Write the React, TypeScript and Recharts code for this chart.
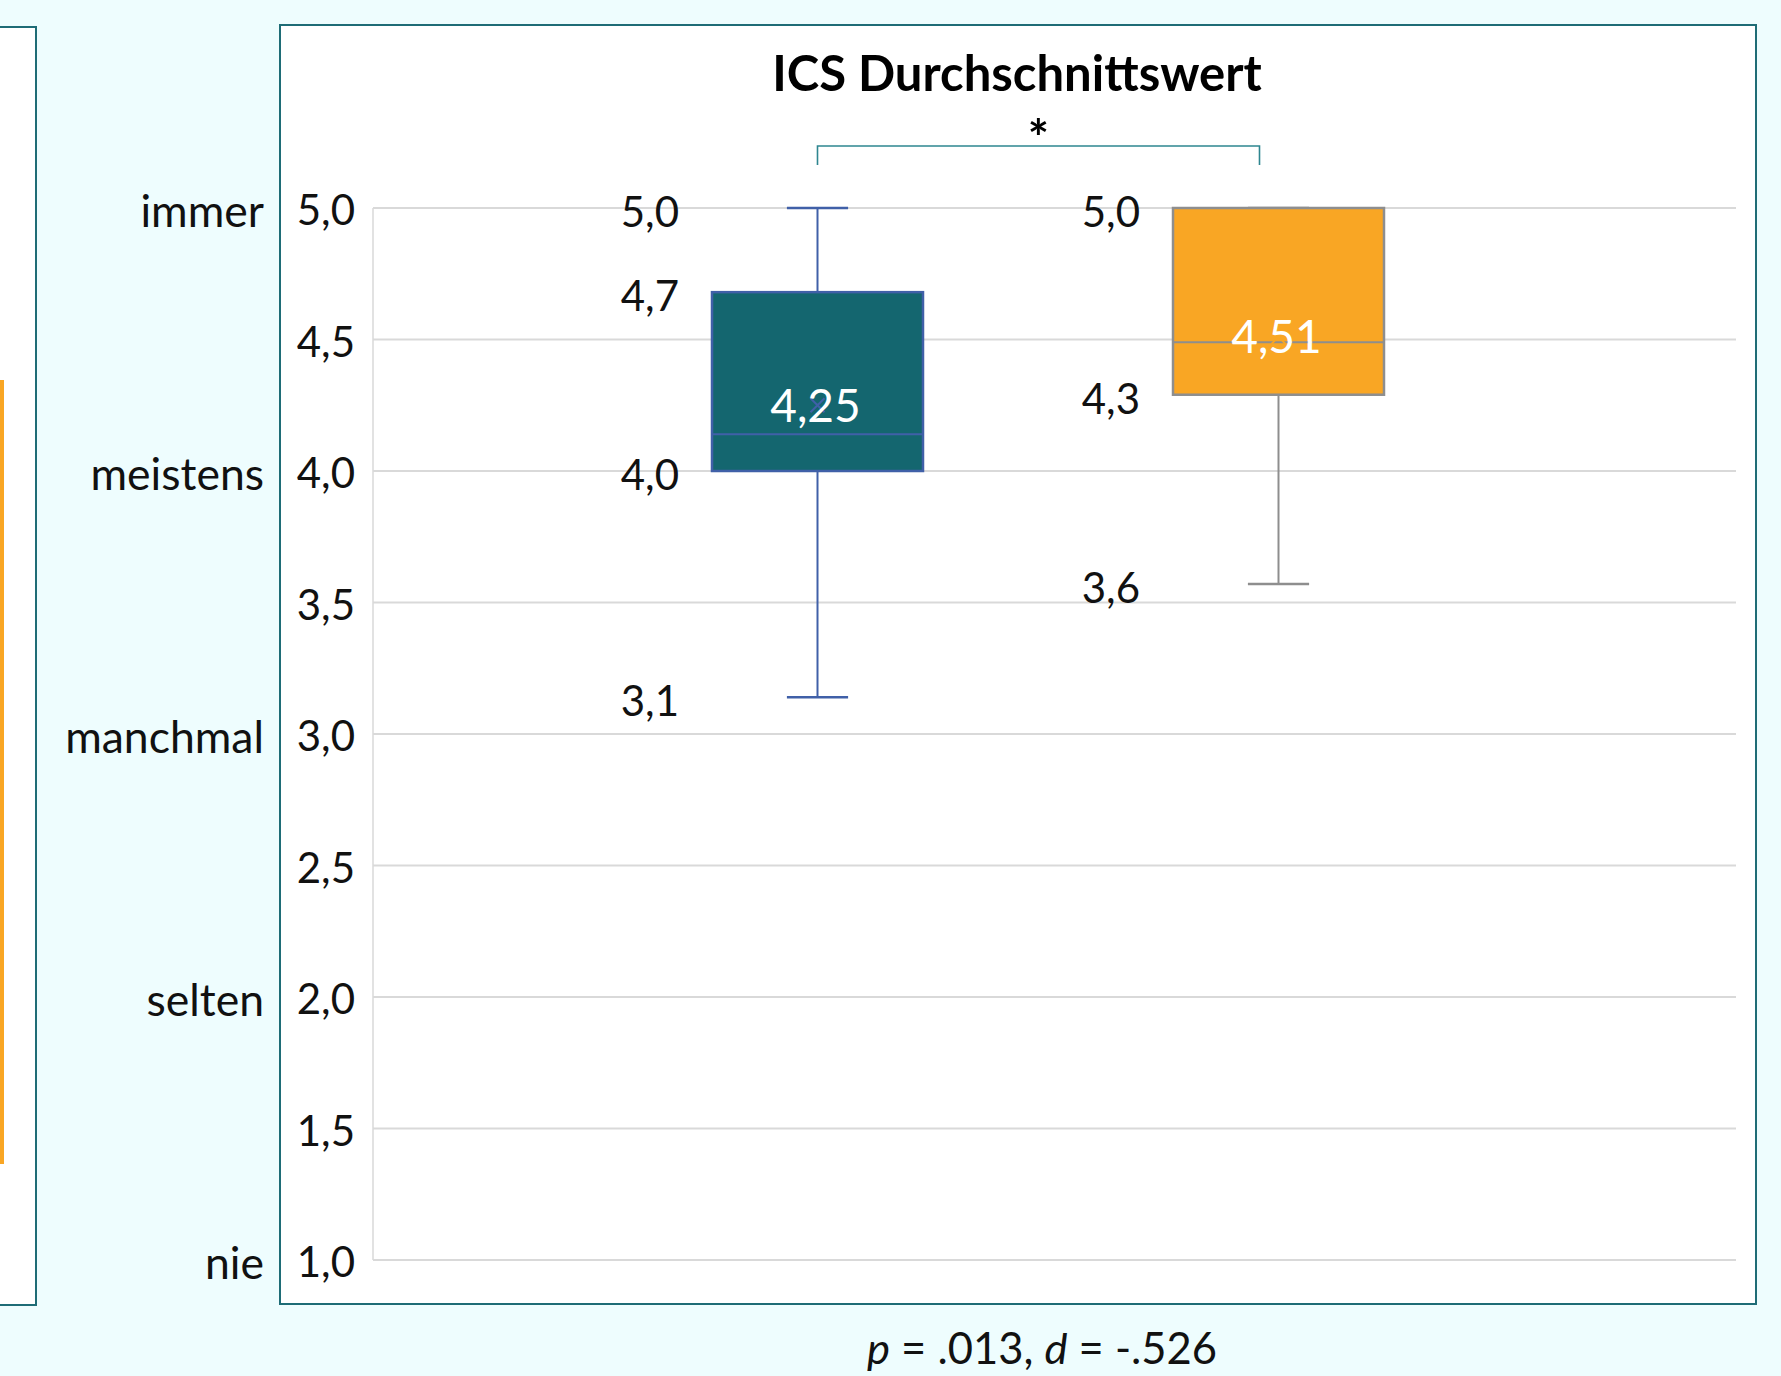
import React from 'react';
import { BarChart, Bar, XAxis, YAxis, CartesianGrid } from 'recharts';

// Boxplot statistics per group (ICS average score)
const groupKeys = ['gruppeA', 'gruppeB'];
const whiskerLow = [3.14, 3.57];
const quartile1 = [4.0, 4.29];
const medians = [4.14, 4.49];
const quartile3 = [4.68, 5.0];
const whiskerHigh = [5.0, 5.0];
const means = [4.25, 4.51];

const yTicks = [1, 1.5, 2, 2.5, 3, 3.5, 4, 4.5, 5];
const scaleLevels = [1, 2, 3, 4, 5];
const scaleWords = ['nie', 'selten', 'manchmal', 'meistens', 'immer'];

const boxFill = ['#14666F', '#F9A624'];
const boxStroke = ['#4060A8', '#8E8E8E'];
const meanMarker = ['#4060A8', '#F9A624'];

const W = 1781;
const H = 1376;
const margin = { top: 208, right: 45, bottom: 116, left: 273 };
const yAxisWidth = 100;
const barSize = 211;
const barGap = 250;
const padRight = 13;

const FONT = 'Lato, "Open Sans", sans-serif';

const data = [
  {
    name: 'ICS',
    [groupKeys[0]]: [whiskerLow[0], whiskerHigh[0]],
    [groupKeys[1]]: [whiskerLow[1], whiskerHigh[1]],
  },
];

const fmt = (v: number, d = 1) => v.toFixed(d).replace('.', ',');

function ScaleTick({ x, y, payload }: any) {
  const v = payload.value;
  const wi = scaleLevels.indexOf(v);
  return (
    <g fontFamily={FONT} fill="#111">
      <text x={x} y={y + 2} dy="0.36em" textAnchor="end" fontSize={42}>{fmt(v)}</text>
      {wi >= 0 && (
        <text x={x - 91} y={y + 3} dy="0.36em" textAnchor="end" fontSize={44.5}>{scaleWords[wi]}</text>
      )}
    </g>
  );
}

function BoxShape(props: any) {
  const { x, y, width, height, idx } = props;
  const lo = whiskerLow[idx];
  const hi = whiskerHigh[idx];
  const top = Math.min(y, y + height);
  const span = Math.abs(height);
  // linear mapping from the bar's own pixel extent (whisker range)
  const py = (v: number) => top + ((hi - v) / (hi - lo)) * span;
  const cx = x + width / 2;
  const capHalf = width * 0.145;
  const stroke = boxStroke[idx];
  const q1 = py(quartile1[idx]);
  const q3 = py(quartile3[idx]);
  const med = py(medians[idx]);
  const mean = py(means[idx]);

  const seen: string[] = [];
  const labels: { v: number; t: string }[] = [];
  [hi, quartile3[idx], quartile1[idx], lo].forEach((v) => {
    const t = fmt(v);
    if (!seen.includes(t)) {
      seen.push(t);
      labels.push({ v, t });
    }
  });

  return (
    <g>
      <line x1={cx} x2={cx} y1={py(hi)} y2={q3} stroke={stroke} strokeWidth={2} />
      <line x1={cx} x2={cx} y1={q1} y2={py(lo)} stroke={stroke} strokeWidth={2} />
      <line x1={cx - capHalf} x2={cx + capHalf} y1={py(hi)} y2={py(hi)} stroke={stroke} strokeWidth={2.5} />
      <line x1={cx - capHalf} x2={cx + capHalf} y1={py(lo)} y2={py(lo)} stroke={stroke} strokeWidth={2.5} />
      <rect x={x} y={q3} width={width} height={q1 - q3} fill={boxFill[idx]} stroke={stroke} strokeWidth={2.5} />
      <line x1={x} x2={x + width} y1={med} y2={med} stroke={stroke} strokeWidth={2} />
      <path
        d={`M${cx - 7},${mean - 7}L${cx + 7},${mean + 7}M${cx + 7},${mean - 7}L${cx - 7},${mean + 7}`}
        stroke={meanMarker[idx]}
        strokeWidth={2}
      />
      <text x={cx - 2} y={mean} dy="0.36em" textAnchor="middle" fontFamily={FONT} fontSize={46} fill="#fff">
        {fmt(means[idx], 2)}
      </text>
      {labels.map((l) => (
        <text
          key={l.t}
          x={x - 33}
          y={py(l.v) + 4}
          dy="0.36em"
          textAnchor="end"
          fontFamily={FONT}
          fontSize={42}
          fill="#111"
        >
          {l.t}
        </text>
      ))}
    </g>
  );
}

export default function App() {
  const plotLeft = margin.left + yAxisWidth;
  const plotRight = W - margin.right;
  const bandSize = plotRight - padRight - plotLeft;
  const offset = Math.floor((bandSize - (2 * barSize + barGap)) / 2);
  const c0 = plotLeft + offset + barSize / 2;
  const c1 = c0 + barSize + barGap;
  const bx0 = c0;
  const bx1 = c1 - 19;
  const bracketY = 146;

  return (
    <div
      style={{
        position: 'absolute',
        left: 0,
        top: 0,
        width: W,
        height: H,
        background: '#EEFDFE',
        overflow: 'hidden',
        fontFamily: FONT,
      }}
    >
      {/* neighbouring panel, cut off */}
      <div
        style={{
          position: 'absolute',
          left: -4,
          top: 26,
          width: 37,
          height: 1276,
          background: '#fff',
          border: '2px solid #1E6C76',
        }}
      />
      <div style={{ position: 'absolute', left: 0, top: 380, width: 4, height: 784, background: '#F9A624' }} />

      {/* main panel */}
      <div
        style={{
          position: 'absolute',
          left: 279,
          top: 24,
          width: 1474,
          height: 1277,
          background: '#fff',
          border: '2px solid #1E6C76',
        }}
      />

      <div style={{ position: 'absolute', left: 0, top: 0 }}>
        <BarChart width={W} height={H} data={data} margin={margin} barGap={barGap}>
          <CartesianGrid horizontal vertical={false} stroke="#D9D9D9" strokeWidth={2} />
          <XAxis dataKey="name" hide padding={{ left: 0, right: padRight }} />
          <YAxis
            type="number"
            domain={[1, 5]}
            ticks={yTicks}
            width={yAxisWidth}
            axisLine={{ stroke: '#D9D9D9', strokeWidth: 1.5 }}
            tickLine={false}
            tickSize={0}
            tickMargin={18}
            tick={<ScaleTick />}
            interval={0}
          />
          {groupKeys.map((k, i) => (
            <Bar
              key={k}
              dataKey={k}
              barSize={barSize}
              isAnimationActive={false}
              shape={(p: any) => <BoxShape {...p} idx={i} />}
            />
          ))}
        </BarChart>
      </div>

      <svg
        width={W}
        height={H}
        style={{ position: 'absolute', left: 0, top: 0, pointerEvents: 'none' }}
        fontFamily={FONT}
      >
        <text x={1017} y={91} textAnchor="middle" fontSize={49} fontWeight={700} fill="#000">
          ICS Durchschnittswert
        </text>
        <path
          d={`M${bx0},${bracketY + 19}L${bx0},${bracketY}L${bx1},${bracketY}L${bx1},${bracketY + 19}`}
          fill="none"
          stroke="#2E8690"
          strokeWidth={1.6}
        />
        <text x={(bx0 + bx1) / 2} y={156} textAnchor="middle" fontSize={50} fontWeight={700} fill="#000">
          *
        </text>
        <text x={1042} y={1364} textAnchor="middle" fontSize={43.5} fill="#111">
          <tspan fontStyle="italic">p</tspan> = .013, <tspan fontStyle="italic">d</tspan> = -.526
        </text>
      </svg>
    </div>
  );
}
